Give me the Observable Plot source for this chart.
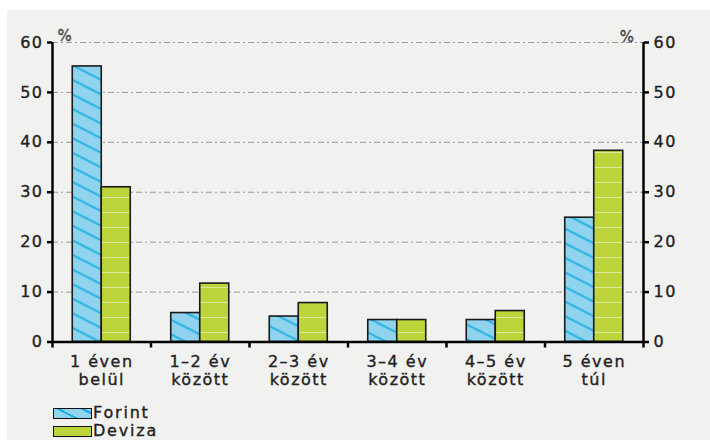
<!DOCTYPE html>
<html><head><meta charset="utf-8">
<script src="https://cdn.jsdelivr.net/npm/d3@7"></script>
<script src="https://cdn.jsdelivr.net/npm/@observablehq/plot@0.6"></script>
<style>
html,body{margin:0;padding:0;background:#fff;}
#panel{position:absolute;left:7px;top:10px;width:703px;height:430px;background:#f1f1f0;font-family:"DejaVu Sans",sans-serif;color:#222;overflow:hidden;}
#chart svg text{letter-spacing:1.5px;stroke:#222;stroke-width:0.35px;}
#legend{position:absolute;left:46px;top:394px;font-size:16px;letter-spacing:1.8px;line-height:18px;-webkit-text-stroke:0.35px #222;}
.row{display:flex;align-items:center;height:18px;}
.sw{width:37px;height:9px;border:1.5px solid #111;margin-right:1px;}
</style></head><body>
<svg width="0" height="0" style="position:absolute">
 <defs>
  <pattern id="forintPat" patternUnits="userSpaceOnUse" width="12" height="13" patternTransform="rotate(27)">
   <rect width="12" height="13" fill="#8fd3ee"/>
   <line x1="0" y1="6.5" x2="12" y2="6.5" stroke="#1aade2" stroke-width="1.8"/>
  </pattern>
  <pattern id="devizaPat" patternUnits="userSpaceOnUse" width="10" height="15">
   <rect width="10" height="15" fill="#bdd43b"/>
   <line x1="0" y1="7.5" x2="10" y2="7.5" stroke="#dfe99c" stroke-width="1"/>
  </pattern>
 </defs>
</svg>
<div id="panel">
 <div id="chart"></div>
 <div id="legend">
  <div class="row"><div class="sw" style="background:#8fd3ee;background-image:repeating-linear-gradient(27deg,#8fd3ee 0 9px,#1aade2 9px 11px);"></div><span>Forint</span></div>
  <div class="row"><div class="sw" style="background:#bdd43b;"></div><span>Deviza</span></div>
 </div>
</div>
<script>
const categories = ["1 éven\nbelül", "1–2 év\nközött", "2–3 év\nközött", "3–4 év\nközött", "4–5 év\nközött", "5 éven\ntúl"];
const forint = [55.2, 5.8, 5.1, 4.4, 4.4, 24.9];
const deviza = [31.0, 11.7, 7.8, 4.4, 6.2, 38.3];
const yTicks = [0, 10, 20, 30, 40, 50, 60];
const gridTicks = [10, 20, 30, 40, 50, 60];

const rows = categories.map((c, i) => ({cat: c, forint: forint[i], deviza: deviza[i]}));

const W = 703, H = 393, ML = 45, MR = 67, MT = 32, MB = 61.5;
const bw = (W - ML - MR) / categories.length;
const barW = 29;
const innerGap = bw / 2 - barW;

const chart = Plot.plot({
  width: W, height: H,
  marginLeft: ML, marginRight: MR, marginTop: MT, marginBottom: MB,
  style: {background: "transparent", fontFamily: "DejaVu Sans, sans-serif", fontSize: "16px", color: "#222"},
  x: {domain: categories, padding: 0, round: false, label: null},
  y: {domain: [0, 60], label: null},
  marks: [
    Plot.gridY(gridTicks, {stroke: "#9a9a9a", strokeOpacity: 1, strokeWidth: 1, strokeDasharray: "6,3,2,3"}),
    Plot.barY(rows, {x: "cat", y: "forint", fill: "url(#forintPat)", stroke: "#1a1a1a", strokeWidth: 1.6, insetLeft: innerGap, insetRight: bw / 2}),
    Plot.barY(rows, {x: "cat", y: "deviza", fill: "url(#devizaPat)", stroke: "#1a1a1a", strokeWidth: 1.6, insetLeft: bw / 2, insetRight: innerGap}),
    Plot.ruleY([0], {stroke: "#000", strokeWidth: 2.5}),
    Plot.ruleX([categories[0]], {dx: -bw / 2, y1: 0, y2: 60, stroke: "#000", strokeWidth: 2.5}),
    Plot.ruleX([categories[categories.length - 1]], {dx: bw / 2, y1: 0, y2: 60, stroke: "#000", strokeWidth: 2.5}),
    Plot.axisX({ticks: categories, tickSize: 6, dx: -bw / 2, tickFormat: () => "", stroke: "#000", strokeWidth: 2.5}),
    Plot.axisX({ticks: [categories[categories.length - 1]], tickSize: 6, dx: bw / 2, tickFormat: () => "", stroke: "#000", strokeWidth: 2.5}),
    Plot.axisX({tickSize: 0, tickPadding: 12, fontSize: 16, lineHeight: 1.12, fill: "#222"}),
    Plot.axisY({anchor: "left", ticks: yTicks, tickSize: 5, tickPadding: 4, strokeWidth: 2.5, stroke: "#000", fontSize: 16, fill: "#222"}),
    Plot.axisY({anchor: "right", ticks: yTicks, tickSize: 5, tickPadding: 5, strokeWidth: 2.5, stroke: "#000", fontSize: 16, fill: "#222"}),
    Plot.text(["%"], {frameAnchor: "top-left", dx: 5, dy: -12, fill: "#666", fontSize: 15}),
    Plot.text(["%"], {frameAnchor: "top-right", dx: -8, dy: -11, fill: "#666", fontSize: 15})
  ]
});
document.getElementById("chart").appendChild(chart);
</script>
</body></html>
